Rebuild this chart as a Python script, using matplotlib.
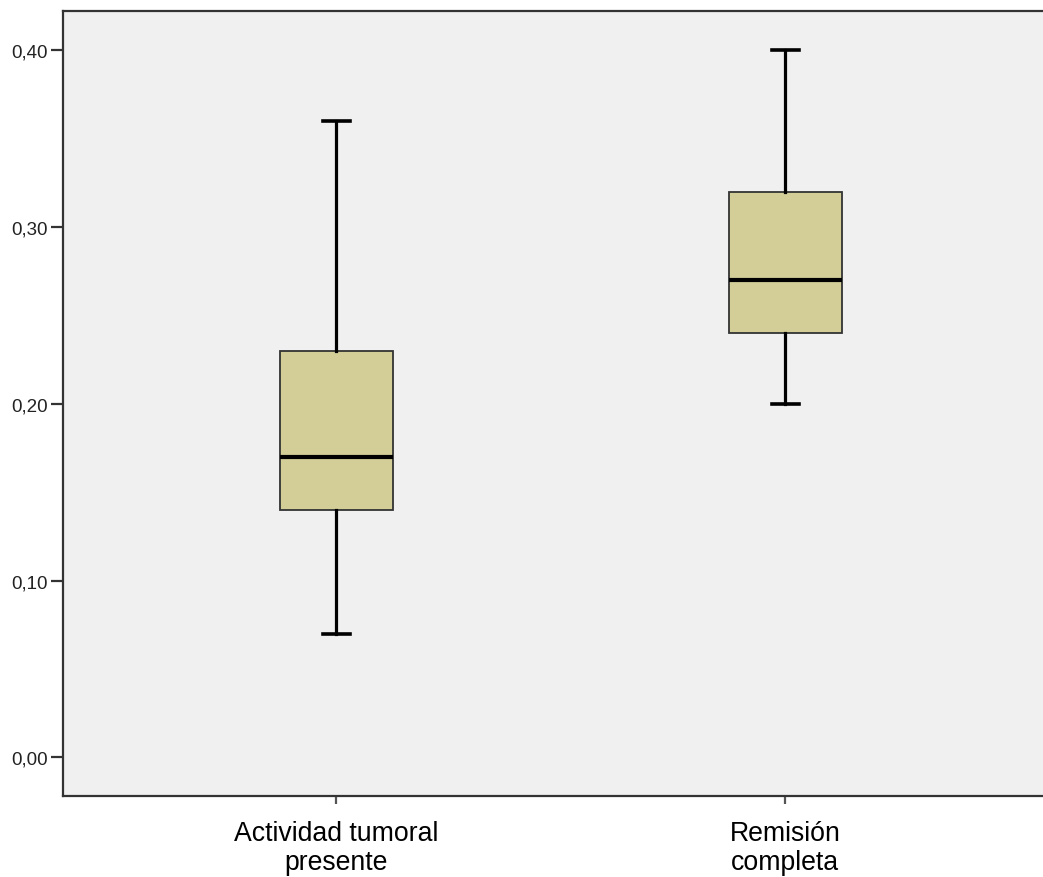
import matplotlib.pyplot as plt

plt.rcParams['font.family'] = ['Liberation Sans', 'DejaVu Sans']

# Group summaries (min whisker, Q1, median, Q3, max whisker)
groups = ["Actividad tumoral\npresente", "Remisión\ncompleta"]
whisker_low = [0.07, 0.20]
q1 = [0.14, 0.24]
median = [0.17, 0.27]
q3 = [0.23, 0.32]
whisker_high = [0.36, 0.40]
yticks = [0.0, 0.1, 0.2, 0.3, 0.4]
ytick_labels = ["0,00", "0,10", "0,20", "0,30", "0,40"]

stats = []
for i, name in enumerate(groups):
    stats.append({"label": name, "whislo": whisker_low[i], "q1": q1[i],
                  "med": median[i], "q3": q3[i], "whishi": whisker_high[i],
                  "fliers": []})

fig = plt.figure(figsize=(10.43, 8.78), dpi=100)
ax = fig.add_axes([0.0604, 0.0923, 0.955, 0.894])
ax.set_facecolor("#F0F0F0")

ax.bxp(stats, positions=[1, 2], widths=0.252, capwidths=0.06,
       patch_artist=True, showfliers=False,
       boxprops=dict(facecolor="#D3CE97", edgecolor="#333333", linewidth=1.3),
       medianprops=dict(color="black", linewidth=3.0),
       whiskerprops=dict(color="black", linewidth=2.3),
       capprops=dict(color="black", linewidth=2.6))

ax.set_xlim(0.3915, 2.61)
ax.set_ylim(-0.0219, 0.4223)
ax.set_yticks(yticks)
ax.set_yticklabels(ytick_labels, fontsize=13.5, color="#222222")
ax.set_xticks([1, 2])
ax.set_xticklabels(groups, fontsize=19.2, linespacing=1.18)

for side in ["left", "bottom", "top"]:
    ax.spines[side].set_linewidth(1.6)
    ax.spines[side].set_color("#333333")
ax.spines["right"].set_visible(False)
ax.tick_params(axis="y", length=9, width=1.6, color="#333333", pad=2)
ax.tick_params(axis="x", length=6, width=1.6, color="#555555", pad=11)

fig.savefig("out.png", dpi=100)
